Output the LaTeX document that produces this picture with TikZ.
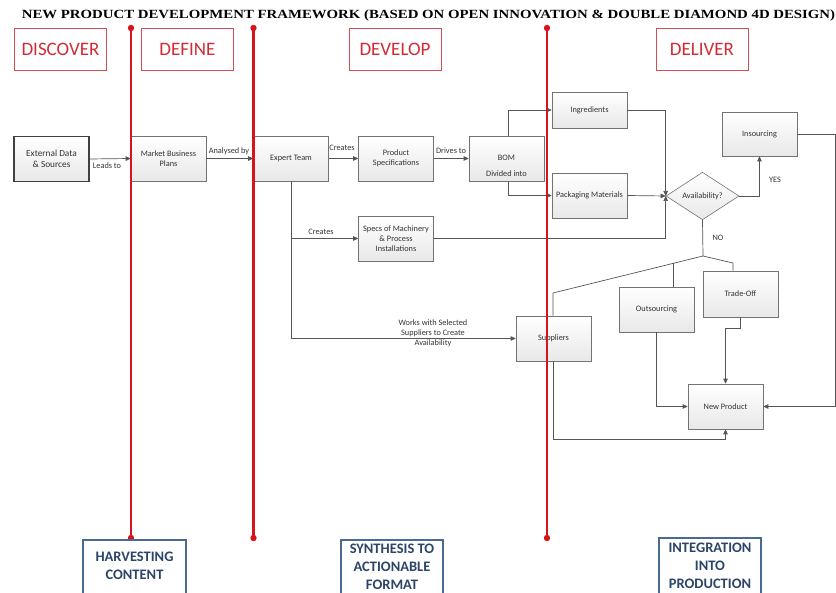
\documentclass[tikz,border=0pt]{standalone}
\usepackage{fontspec}
\setmainfont{Carlito}
\newfontfamily\titlefont{Liberation Serif}
\usetikzlibrary{arrows.meta,shapes.geometric}
\definecolor{myred}{HTML}{D7141E}
\definecolor{phasered}{HTML}{D02B34}
\definecolor{steel}{HTML}{4A6A94}
\definecolor{navytext}{HTML}{2B4468}
\definecolor{conncol}{HTML}{555555}
\tikzset{
  box/.style={draw=black!55, line width=0.6pt, top color=white, bottom color=black!9,
    minimum width=75pt, minimum height=45pt, align=center, inner sep=1pt,
    font=\fontsize{8.3}{10}\selectfont, text=black!80},
  conn/.style={draw=conncol, line width=0.7pt},
  arr/.style={conn, -{Triangle[length=5pt,width=4.5pt]}},
  lbl/.style={font=\fontsize{8.3}{10}\selectfont, text=black!80, inner sep=0pt, align=center},
  phase/.style={draw=phasered!85, line width=0.6pt, text=phasered, font=\fontsize{19}{19}\selectfont,
    minimum width=92pt, minimum height=42pt, inner sep=0pt},
  redline/.style={draw=myred, line width=2.6pt},
  reddot/.style={fill=myred, draw=none},
  bframe/.style={draw=steel, line width=1.6pt},
  btext/.style={text=navytext, align=center, font=\bfseries\fontsize{14.5}{18}\selectfont, inner sep=0pt}
}
\begin{document}
\begin{tikzpicture}[x=1pt,y=-1pt]
\useasboundingbox (0,0) rectangle (836,593);
\clip (0,0) rectangle (836,593);
% title
\node[font=\titlefont\bfseries\fontsize{12.5}{13}\selectfont, inner sep=0pt] (title) at (428.5,15)
  {\scalebox{1.185}[1]{NEW PRODUCT DEVELOPMENT FRAMEWORK (BASED ON OPEN INNOVATION \& DOUBLE DIAMOND 4D DESIGN)}};
% phases
\node[phase] (discover) at (60.5,49) {DISCOVER};
\node[phase] (define) at (187.5,49) {DEFINE};
\node[phase] (develop) at (395,49) {DEVELOP};
\node[phase] (deliver) at (702,49) {DELIVER};
% boxes
\node[box, draw=black!75, line width=1.1pt, font=\fontsize{9.3}{11}\selectfont] (ext) at (51.5,159) {External Data\\\& Sources};
\node[box] (mbp) at (168.5,158.5) {Market Business\\Plans};
\node[box] (exp) at (291,158.5) {Expert Team};
\node[box] (ps) at (396,158.5) {Product\\Specifications};
\node[box] (bom) at (506.5,158.5) {};
\node[lbl] (bomt) at (506.5,158) {BOM};
\node[lbl] (bomd) at (506.5,174) {Divided into};
\node[box, minimum height=36pt] (ing) at (589.5,110) {Ingredients};
\node[box] (pm) at (589.5,195.5) {Packaging Materials};
\node[box] (specs) at (396,238.5) {Specs of Machinery\\\& Process\\Installations};
\node[diamond, draw=black!55, line width=0.6pt, top color=white, bottom color=black!9,
  minimum width=73pt, minimum height=44pt, inner sep=0pt, font=\fontsize{8.3}{10}\selectfont, text=black!80] (av) at (702.5,196) {Availability?};
\node[box, minimum height=44pt] (ins) at (759.5,134) {Insourcing};
\node[box, minimum height=46pt] (trade) at (740.5,294) {Trade-Off};
\node[box] (outs) at (656.5,309.5) {Outsourcing};
\node[box] (sup) at (553.5,338.5) {Suppliers};
\node[box] (np) at (725.5,406.5) {New Product};
% connectors
\draw[arr] (ext.east) -- (mbp.west);
\node[lbl] (l1) at (107,166) {Leads to};
\draw[arr] (mbp.east) -- (exp.west);
\node[lbl] (l2) at (229,151) {Analysed by};
\draw[arr] (exp.east) -- (ps.west);
\node[lbl] (l3) at (342,148) {Creates};
\draw[arr] (ps.east) -- (bom.west);
\node[lbl] (l4) at (451,151) {Drives to};
\coordinate (bj) at (508,0);
\draw[arr] (bj |- bom.north) |- (ing.west);
\draw[arr] (bj |- bom.south) |- (pm.west);
\draw[arr] (ing.east) -| (av.west);
\draw[arr] (pm.east) -- (av.west);
\draw[arr] (specs.east) -| (av.west);
\draw[arr] (exp.south |- specs.west) -- (specs.west);
\node[lbl] (l5) at (321,232) {Creates};
\draw[arr] (exp.south) |- (sup.west);
\node[lbl] (l6) at (433,333.5) {Works with Selected\\Suppliers to Create\\Availability};
\draw[arr] (av.east) -| (ins.south);
\node[lbl] (yes) at (775,180) {YES};
\draw[arr] (ins.east) -- ++(38,0) |- (np.east);
\coordinate (j) at (703,256);
\coordinate (tj) at (733,263);
\coordinate (sj) at (553,293);
\coordinate (oj) at (673,263.4);
\draw[conn] (av.south) -- (j);
\node[lbl] (no) at (718,238) {NO};
\draw[conn] (j) -- (tj) -- (tj |- trade.north);
\draw[conn] (j) -- (sj) -- (sj |- sup.north);
\draw[conn] (oj) -- (oj |- outs.north);
\draw[arr] (sj |- sup.south) |- ([yshift=-10pt]np.south) -- (np.south);
\draw[arr] (outs.south) |- (np.west);
\draw[arr] (trade.south) -- ++(0,11) -| (np.north);
% red lines
\foreach \x in {131,253.5,547}{
  \draw[redline] (\x,28) -- (\x,538);
  \fill[reddot] (\x,28) circle (3.2pt);
  \fill[reddot] (\x,538) circle (3.2pt);
}
% bottom boxes
\draw[bframe] (83,540) rectangle (186,600);
\node[btext] (harv) at (134.5,566) {HARVESTING\\CONTENT};
\draw[bframe] (341,540) rectangle (443,600);
\node[btext] (synth) at (392,567) {SYNTHESIS TO\\ACTIONABLE\\FORMAT};
\draw[bframe] (659,538) rectangle (761,600);
\node[btext] (integ) at (710,565.5) {INTEGRATION\\INTO\\PRODUCTION};
\end{tikzpicture}
\end{document}
